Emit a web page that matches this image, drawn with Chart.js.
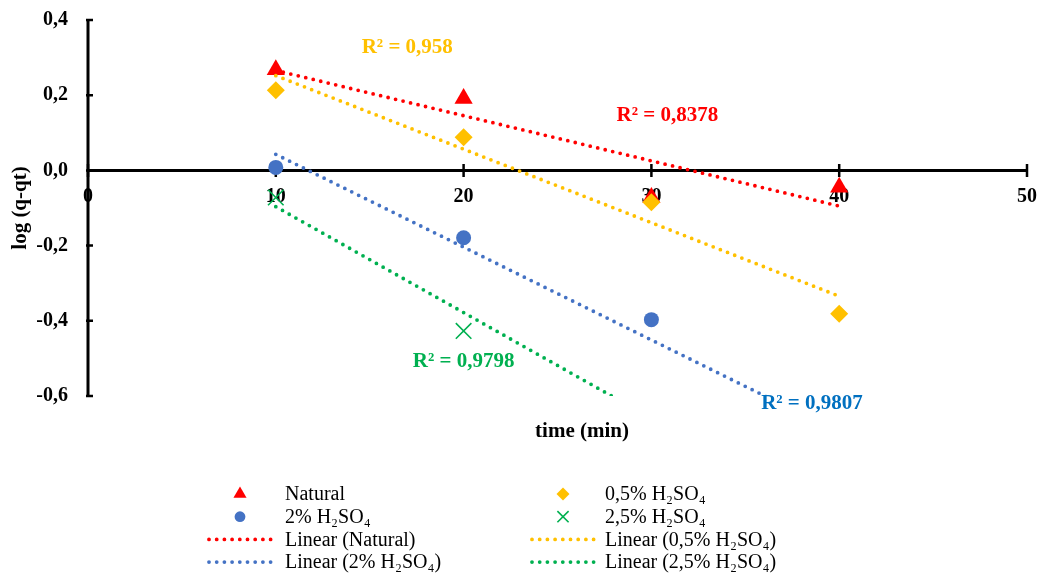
<!DOCTYPE html>
<html>
<head>
<meta charset="utf-8">
<script src="https://cdn.jsdelivr.net/npm/chart.js@4/dist/chart.umd.min.js"></script>
<style>
  html, body { margin: 0; padding: 0; background: #ffffff; }
  canvas { display: block; }
</style>
</head>
<body>
<canvas id="chart" width="1041" height="573"></canvas>
<script>
// Adsorption kinetics: log(q - qt) against contact time
const timeMin     = [10, 20, 30, 40];
const natural     = [0.268, 0.191, -0.072, -0.045];
const acid05      = [0.213, 0.088, -0.085, -0.381];
const acid2       = [0.008, -0.179, -0.397, -0.742];
const timeAcid25  = [10, 20, 30];
const acid25      = [-0.072, -0.427, -0.635];

const seriesNames = ['Natural', '0,5% H₂SO₄', '2% H₂SO₄', '2,5% H₂SO₄'];
const r2Values    = ['0,8378', '0,958', '0,9807', '0,9798'];
const xTickValues = [0, 10, 20, 30, 40, 50];
const yTickValues = [-0.6, -0.4, -0.2, 0, 0.2, 0.4];

const RED = '#FF0000', ORANGE = '#FFC000', BLUE = '#4472C4', GREEN = '#00B050';
const FONT = '"Liberation Serif", "Times New Roman", serif';

// least-squares trend line spanning the measured time range
function linearFit(xs, ys) {
  const n = xs.length;
  const mx = xs.reduce((a, b) => a + b, 0) / n;
  const my = ys.reduce((a, b) => a + b, 0) / n;
  let sxy = 0, sxx = 0;
  for (let i = 0; i < n; i++) { sxy += (xs[i] - mx) * (ys[i] - my); sxx += (xs[i] - mx) ** 2; }
  const slope = sxy / sxx, icpt = my - slope * mx;
  const x0 = Math.min(...xs), x1 = Math.max(...xs);
  return [{ x: x0, y: icpt + slope * x0 }, { x: x1, y: icpt + slope * x1 }];
}
const pts = (xs, ys) => xs.map((x, i) => ({ x, y: ys[i] }));

const markerSets = [
  { label: seriesNames[0], data: pts(timeMin, natural), pointStyle: 'triangle', pointRadius: 10.5, backgroundColor: RED, borderColor: RED, borderWidth: 0 },
  { label: seriesNames[1], data: pts(timeMin, acid05), pointStyle: 'rectRot', pointRadius: 9, backgroundColor: ORANGE, borderColor: ORANGE, borderWidth: 0 },
  { label: seriesNames[2], data: pts(timeMin, acid2), pointStyle: 'circle', pointRadius: 7.5, backgroundColor: BLUE, borderColor: BLUE, borderWidth: 0 },
  { label: seriesNames[3], data: pts(timeAcid25, acid25), pointStyle: 'crossRot', pointRadius: 11, backgroundColor: GREEN, borderColor: GREEN, borderWidth: 1.6 }
];
const trendSets = [
  { label: 'Linear (' + seriesNames[0] + ')', data: linearFit(timeMin, natural), borderColor: RED },
  { label: 'Linear (' + seriesNames[1] + ')', data: linearFit(timeMin, acid05), borderColor: ORANGE },
  { label: 'Linear (' + seriesNames[2] + ')', data: linearFit(timeMin, acid2), borderColor: BLUE },
  { label: 'Linear (' + seriesNames[3] + ')', data: linearFit(timeAcid25, acid25), borderColor: GREEN }
].map(d => Object.assign(d, {
  type: 'line', showLine: true, pointRadius: 0, borderWidth: 3.8,
  borderDash: [0, 7.7], borderCapStyle: 'round', fill: false
}));

// markers first, trend lines on top; lower order is painted later
const allSets = markerSets.map(d => Object.assign(d, { showLine: false }))
  .concat(trendSets)
  .map((d, i, arr) => Object.assign(d, { order: arr.length - i }));

const fmtComma = v => (Math.abs(v) < 1e-9 ? 0 : v).toFixed(1).replace('.', ',');

// axis lines crossing at y = 0 with tick marks through them
const axesPlugin = {
  id: 'axesLines',
  beforeDatasetsDraw(chart) {
    const { ctx, chartArea: a, scales: { x, y } } = chart;
    const y0 = y.getPixelForValue(0);
    ctx.save();
    ctx.strokeStyle = '#000';
    ctx.lineWidth = 3;
    ctx.beginPath();
    ctx.moveTo(a.left, a.top); ctx.lineTo(a.left, a.bottom);
    ctx.moveTo(a.left, y0); ctx.lineTo(a.right, y0);
    ctx.stroke();
    ctx.lineWidth = 2.5;
    ctx.beginPath();
    xTickValues.forEach(v => { const px = x.getPixelForValue(v); ctx.moveTo(px, y0 - 6.5); ctx.lineTo(px, y0 + 6.5); });
    yTickValues.forEach(v => { const py = y.getPixelForValue(v); ctx.moveTo(a.left - 2, py); ctx.lineTo(a.left + 5, py); });
    ctx.stroke();
    ctx.restore();
  }
};

// R² annotations, axis titles and the two-column legend
const textPlugin = {
  id: 'chartTexts',
  afterDraw(chart, args, opts) {
    const { ctx, scales: { x, y } } = chart;
    ctx.save();
    ctx.textBaseline = 'middle';
    ctx.textAlign = 'center';
    ctx.font = 'bold 21px ' + FONT;
    opts.r2.forEach((p, i) => {
      ctx.fillStyle = p.color;
      ctx.fillText('R² = ' + r2Values[i], x.getPixelForValue(p.x), y.getPixelForValue(p.y));
    });

    ctx.fillStyle = '#000';
    ctx.font = 'bold 21px ' + FONT;
    ctx.fillText('time (min)', opts.xTitle.x, opts.xTitle.y);
    ctx.save();
    ctx.translate(opts.yTitle.x, (chart.chartArea.top + chart.chartArea.bottom) / 2);
    ctx.rotate(-Math.PI / 2);
    ctx.fillText('log (q-qt)', 0, 0);
    ctx.restore();

    // legend
    const L = opts.legend;
    const items = markerSets.concat(trendSets);
    ctx.font = '20px ' + FONT;
    ctx.textAlign = 'left';
    items.forEach((d, i) => {
      const col = i % 2, row = Math.floor(i / 2);
      const cy = L.rowY[0] + row * L.rowGap;
      const sym = L.symbolX[col];
      if (d.type === 'line') {
        ctx.save();
        ctx.strokeStyle = d.borderColor;
        ctx.lineWidth = d.borderWidth;
        ctx.lineCap = 'round';
        ctx.setLineDash(d.borderDash);
        ctx.beginPath();
        ctx.moveTo(sym - L.lineHalf, cy);
        ctx.lineTo(sym + L.lineHalf, cy);
        ctx.stroke();
        ctx.restore();
      } else {
        ctx.save();
        ctx.fillStyle = d.backgroundColor;
        ctx.strokeStyle = d.borderColor;
        ctx.lineWidth = d.borderWidth || 1;
        Chart.helpers.drawPoint(ctx, {
          pointStyle: d.pointStyle, radius: d.pointRadius * L.markerScale, rotation: 0,
          borderWidth: d.borderWidth
        }, sym, cy);
        ctx.restore();
      }
      ctx.fillStyle = '#000';
      ctx.fillText(d.label, L.textX[col], cy + 1);
    });
    ctx.restore();
  }
};

new Chart(document.getElementById('chart'), {
  type: 'scatter',
  data: { datasets: allSets },
  options: {
    responsive: false,
    animation: false,
    events: [],
    layout: { padding: { top: 20, right: 14, bottom: 177, left: 0 } },
    plugins: {
      legend: { display: false },
      tooltip: { enabled: false },
      chartTexts: {
        r2: [
          { x: 30.85, y: 0.147, color: RED },
          { x: 17.0, y: 0.326, color: ORANGE },
          { x: 38.55, y: -0.620, color: '#0070C0' },
          { x: 20.0, y: -0.508, color: GREEN }
        ],
        xTitle: { x: 582, y: 432 },
        yTitle: { x: 21 },
        legend: {
          rowY: [494], rowGap: 22.7,
          symbolX: [240, 563], textX: [285, 605],
          lineHalf: 31, markerScale: 0.72
        }
      }
    },
    scales: {
      x: {
        type: 'linear', min: 0, max: 50,
        position: { y: 0 },
        z: 1,
        afterBuildTicks: s => { s.ticks = xTickValues.map(v => ({ value: v })); },
        afterFit: s => { s.paddingLeft = 0; s.paddingRight = 0; },
        ticks: { color: '#000', font: { family: FONT, size: 20, weight: 'bold' }, padding: 6, maxRotation: 0, autoSkip: false },
        grid: { display: false },
        border: { display: false }
      },
      y: {
        type: 'linear', min: -0.6, max: 0.4,
        z: 1,
        afterBuildTicks: s => { s.ticks = yTickValues.map(v => ({ value: v })); },
        afterFit: s => { s.width = 88; s.paddingTop = 0; s.paddingBottom = 0; },
        ticks: { color: '#000', font: { family: FONT, size: 20, weight: 'bold' }, padding: 12, callback: v => fmtComma(v), autoSkip: false },
        grid: { display: false },
        border: { display: false }
      }
    }
  },
  plugins: [axesPlugin, textPlugin]
});
</script>
</body>
</html>
